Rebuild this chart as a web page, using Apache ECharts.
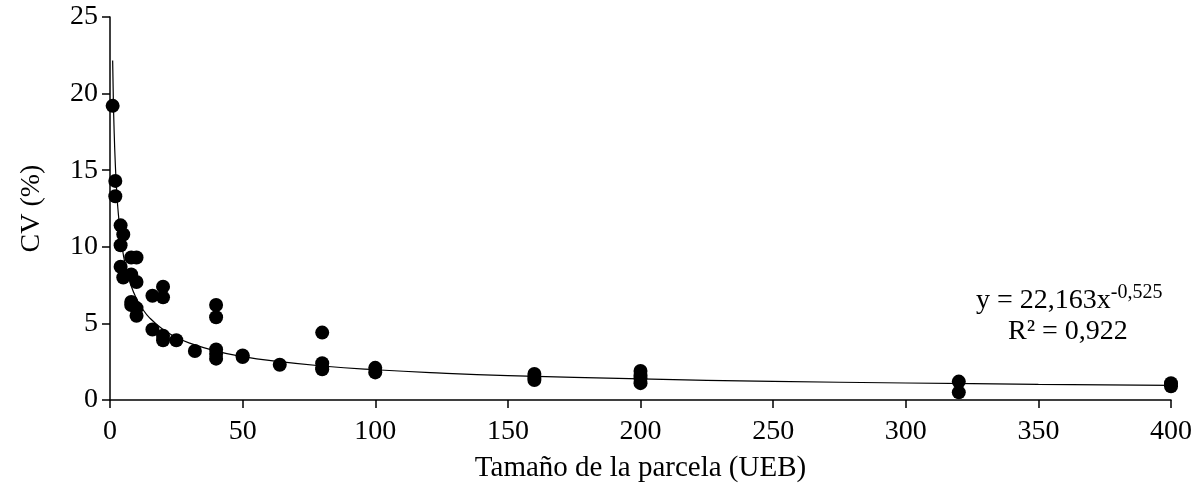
<!DOCTYPE html>
<html>
<head>
<meta charset="utf-8">
<script src="https://cdn.jsdelivr.net/npm/echarts@6/dist/echarts.min.js"></script>
<style>
html,body{margin:0;padding:0;background:#fff;}
#chart{width:1200px;height:492px;}
</style>
</head>
<body>
<div id="chart"></div>
<script>
// Plot size (UEB) and CV (%) observations
const plotSizes = [1, 2, 2, 4, 4, 4, 5, 5, 8, 8, 8, 8, 10, 10, 10, 10, 16, 16, 20, 20, 20, 20, 25, 32, 40, 40, 40, 40, 40, 50, 50, 64, 80, 80, 80, 80, 100, 100, 160, 160, 160, 200, 200, 200, 200, 320, 320, 400, 400];
const cvValues  = [19.2, 14.3, 13.3, 11.4, 10.1, 8.7, 10.8, 8.0, 9.3, 8.2, 6.4, 6.2, 9.3, 7.7, 6.0, 5.5, 6.8, 4.6, 7.4, 6.7, 4.2, 3.9, 3.9, 3.2, 6.2, 5.4, 3.3, 3.0, 2.7, 2.9, 2.8, 2.3, 4.4, 2.4, 2.1, 2.0, 2.1, 1.8, 1.7, 1.5, 1.3, 1.9, 1.6, 1.4, 1.1, 1.2, 0.5, 1.1, 0.9];

// Fitted power trend line shown in the chart: y = a * x^b
const trendA = 22.163;
const trendB = -0.525;
const trendXs = [1, 1.25, 1.5, 2, 2.5, 3, 4, 5, 6, 8, 10, 12, 15, 20, 25, 30, 40, 50, 60, 80, 100, 125, 150, 200, 250, 300, 350, 400];

const xTicks = { min: 0, max: 400, interval: 50 };
const yTicks = { min: 0, max: 25, interval: 5 };

const xTitle = 'Tamaño de la parcela (UEB)';
const yTitle = 'CV (%)';
const eqMain = 'y = 22,163x';
const eqExp = '-0,525';
const eqR2 = 'R² = 0,922';

const scatterData = plotSizes.map((x, i) => [x, cvValues[i]]);
const trendData = trendXs.map(x => [x, trendA * Math.pow(x, trendB)]);

const FONT = '"Liberation Serif", "Times New Roman", serif';
const chart = echarts.init(document.getElementById('chart'));
chart.setOption({
  animation: false,
  backgroundColor: '#fff',
  grid: { left: 110, right: 29, top: 17, bottom: 92 },
  xAxis: {
    type: 'value', min: xTicks.min, max: xTicks.max, interval: xTicks.interval,
    name: xTitle, nameLocation: 'middle', nameGap: 54,
    nameTextStyle: { fontFamily: FONT, fontSize: 29, color: '#000' },
    axisLine: { lineStyle: { color: '#000', width: 1.5 } },
    axisTick: { show: true, length: 8, lineStyle: { color: '#000', width: 1.5 } },
    axisLabel: { fontFamily: FONT, fontSize: 28, color: '#000', margin: 18 },
    splitLine: { show: false }
  },
  yAxis: {
    type: 'value', min: yTicks.min, max: yTicks.max, interval: yTicks.interval,
    name: yTitle, nameLocation: 'middle', nameGap: 64, nameRotate: 90,
    nameTextStyle: { fontFamily: FONT, fontSize: 28, color: '#000' },
    axisLine: { show: true, lineStyle: { color: '#000', width: 1.5 } },
    axisTick: { show: true, length: 8, lineStyle: { color: '#000', width: 1.5 } },
    axisLabel: { fontFamily: FONT, fontSize: 28, color: '#000', margin: 12 },
    splitLine: { show: false }
  },
  series: [
    {
      type: 'line', data: trendData, smooth: true, showSymbol: false, symbol: 'none',
      lineStyle: { color: '#000', width: 1.2 }, z: 3, silent: true
    },
    {
      type: 'scatter', data: scatterData, symbol: 'circle', symbolSize: 14,
      itemStyle: { color: '#000', opacity: 1 }, z: 2
    }
  ],
  graphic: [
    {
      type: 'text', left: 976, top: 283,
      style: {
        text: '{m|' + eqMain + '}{s|' + eqExp + '}',
        rich: {
          m: { fontFamily: FONT, fontSize: 28, fill: '#000', verticalAlign: 'bottom', lineHeight: 32 },
          s: { fontFamily: FONT, fontSize: 20, fill: '#000', verticalAlign: 'top', lineHeight: 32, padding: [0, 0, 14, 0] }
        }
      }
    },
    {
      type: 'text', left: 1008, top: 318,
      style: { text: eqR2, fontFamily: FONT, fontSize: 28, fill: '#000' }
    }
  ]
});
</script>
</body>
</html>
